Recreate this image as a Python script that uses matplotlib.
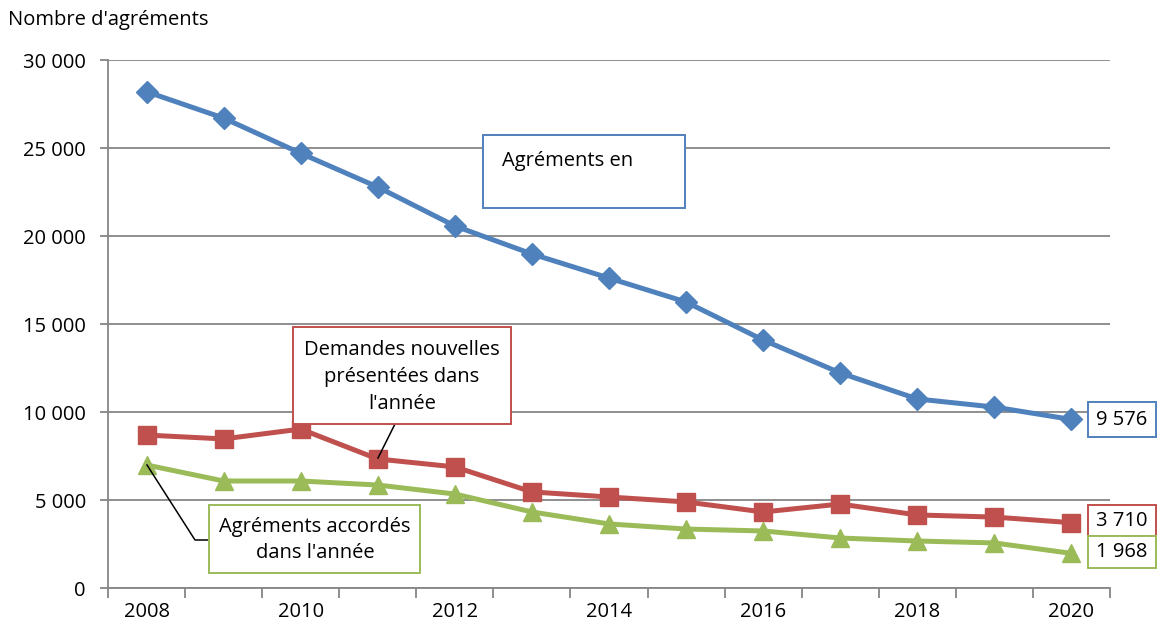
import matplotlib
matplotlib.use("Agg")
import matplotlib.pyplot as plt
from matplotlib.patches import Rectangle
from matplotlib.lines import Line2D

years = list(range(2008, 2021))
agrements_en_cours = [28200, 26700, 24700, 22780, 20570, 18980, 17610, 16250, 14090, 12220, 10740, 10280, 9576]
demandes_nouvelles = [8690, 8470, 9030, 7330, 6880, 5460, 5170, 4890, 4320, 4770, 4150, 4030, 3710]
agrements_accordes = [6990, 6080, 6080, 5850, 5340, 4320, 3640, 3350, 3240, 2840, 2670, 2560, 1968]
yticks = [0, 5000, 10000, 15000, 20000, 25000, 30000]
ytick_labels = ["0", "5 000", "10 000", "15 000", "20 000", "25 000", "30 000"]
end_labels = ["9 576", "3 710", "1 968"]

BLUE = "#4F81BD"
RED = "#C0504D"
GREEN = "#9BBB59"
GRID = "#868686"
FS = 14.5

plt.rcParams['font.family'] = ['Open Sans', 'DejaVu Sans']

W, H = 1159, 626
fig = plt.figure(figsize=(W / 100, H / 100), dpi=100)
ax = fig.add_axes([108 / W, 1 - 588 / H, (1110 - 108) / W, (588 - 60) / H])

x = list(range(len(years)))
ax.plot(x, agrements_en_cours, color=BLUE, lw=3.6, marker="D", ms=11, zorder=5)
ax.plot(x, demandes_nouvelles, color=RED, lw=3.6, marker="s", ms=12.5, zorder=5)
ax.plot(x, agrements_accordes, color=GREEN, lw=3.6, marker="^", ms=13, zorder=5)

ax.set_xlim(-0.5, len(years) - 0.5)
ax.set_ylim(0, 30000)
ax.set_yticks(yticks)
ax.set_yticklabels(ytick_labels, fontsize=FS)
ax.yaxis.grid(True, color=GRID, lw=1.3)
ax.set_axisbelow(True)
ax.tick_params(axis="y", length=6, color=GRID, width=1.3, pad=10)

ax.set_xticks([i - 0.5 for i in range(len(years) + 1)])
ax.set_xticklabels([])
ax.tick_params(axis="x", which="major", length=7, color=GRID, width=1.3)
ax.set_xticks([i for i in x if years[i] % 2 == 0], minor=True)
ax.set_xticklabels([str(years[i]) for i in x if years[i] % 2 == 0], minor=True, fontsize=FS)
ax.tick_params(axis="x", which="minor", length=0, pad=10)

for s in ["top", "right"]:
    ax.spines[s].set_visible(False)
for s in ["left", "bottom"]:
    ax.spines[s].set_color(GRID)
    ax.spines[s].set_linewidth(1.3)

fig.text(8 / W, 1 - 20 / H, "Nombre d'agréments", fontsize=FS, va="center", ha="left")


def px_box(x0, y0, x1, y1, color):
    r = Rectangle((x0 / W, 1 - y1 / H), (x1 - x0) / W, (y1 - y0) / H,
                  transform=fig.transFigure, fill=True, facecolor="white",
                  edgecolor=color, lw=1.4, zorder=10)
    fig.add_artist(r)


def px_text(xp, yp, s, ha="center", va="center", ls=1.45):
    fig.text(xp / W, 1 - yp / H, s, fontsize=FS, ha=ha, va=va, zorder=11, linespacing=ls)


def px_line(xs, ys):
    fig.add_artist(Line2D([v / W for v in xs], [1 - v / H for v in ys], color="black", lw=1.1, zorder=9))


# Blue annotation box
px_box(483, 135, 685, 208, BLUE)
px_text(502, 161, "Agréments en", ha="left")

# Red annotation box + leader
px_line([395, 378], [424, 458])
px_box(293, 327, 511, 424, RED)
px_text(402, 377, "Demandes nouvelles\nprésentées dans\nl'année")

# Green annotation box + leader
px_line([147, 195, 209], [465, 540, 540])
px_box(209, 505, 420, 573, GREEN)
px_text(315, 540, "Agréments accordés\ndans l'année")

# End labels
px_box(1088, 402, 1156, 437, BLUE)
px_text(1122, 420, end_labels[0])
px_box(1088, 505, 1156, 536, RED)
px_text(1122, 521, end_labels[1])
px_box(1088, 536, 1156, 568, GREEN)
px_text(1122, 552, end_labels[2])

fig.savefig("out.png", dpi=100)
